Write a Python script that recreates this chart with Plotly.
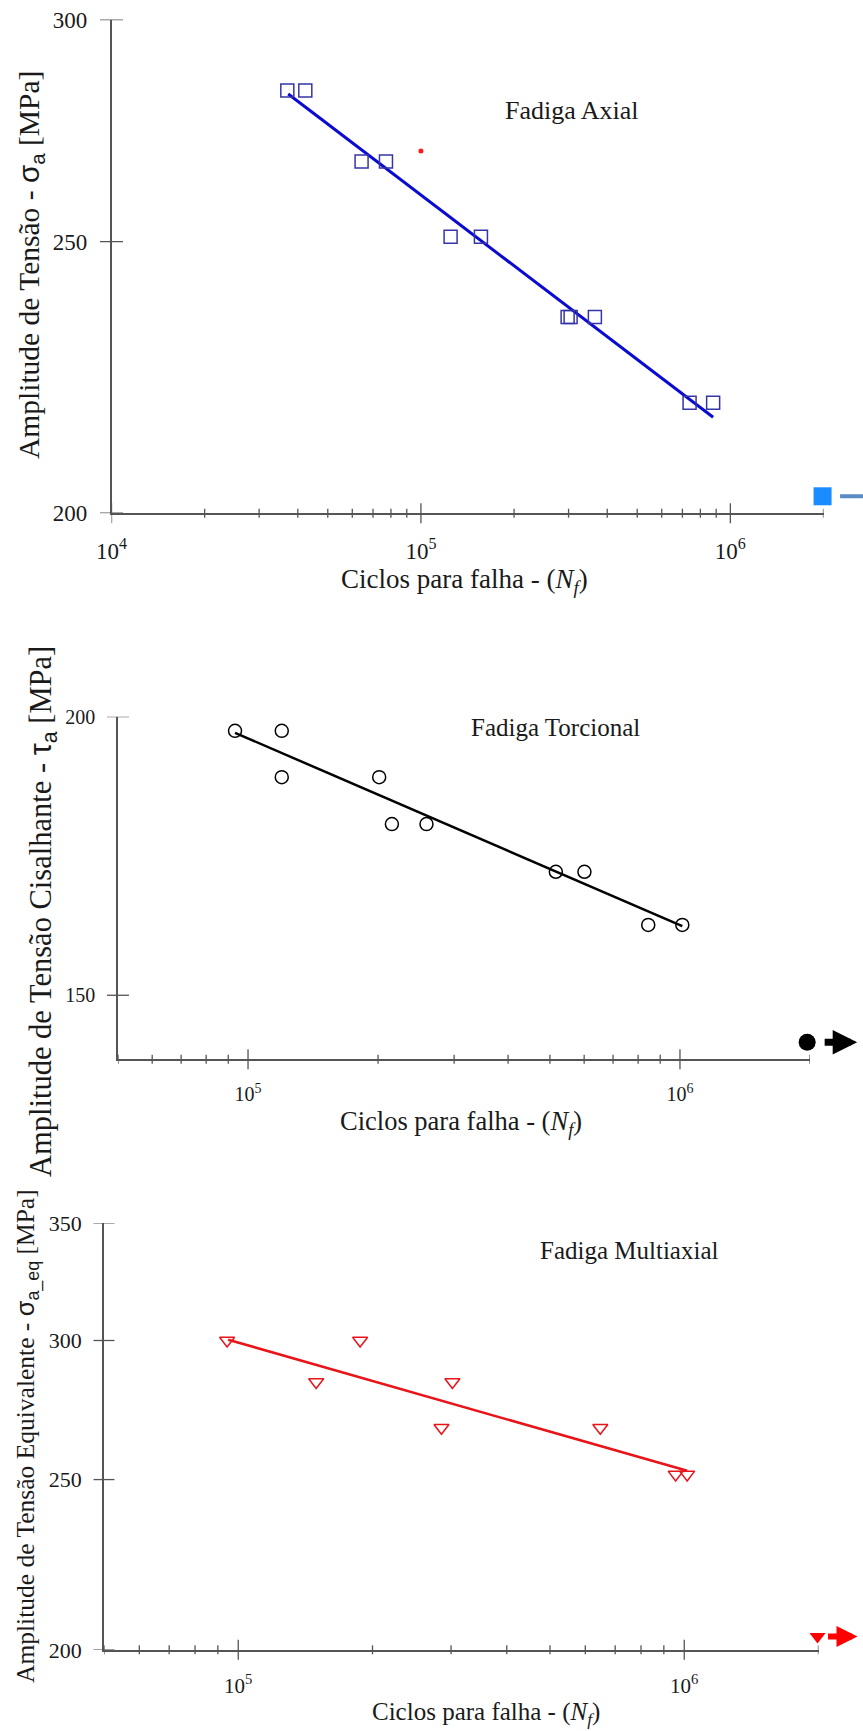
import numpy as np
import plotly.graph_objects as go

W, H = 863, 1731
SERIF = "Liberation Serif, Times New Roman, serif"

# ---------------- Data ----------------
# Chart 1 - Fadiga Axial
axial_N = [37000, 42300, 64300, 77100, 124700, 156300, 297900, 304600, 364900, 738300, 879800]
axial_S = [283, 283, 267, 267, 251, 251, 235, 235, 235, 219, 219]
axial_fit_N = [37250, 879800]
axial_fit_S = [282.2, 216.4]
axial_dot_N = [100000]
axial_dot_S = [269.3]
axial_runout_N = [1986000]
axial_runout_S = [202.8]

# Chart 2 - Fadiga Torcional
tors_N = [93300, 119700, 119700, 201200, 215300, 258900, 516000, 600900, 844400, 1012600]
tors_S = [197.1, 197.1, 187.9, 187.9, 179.0, 179.0, 170.4, 170.4, 161.3, 161.3]
tors_fit_N = [93300, 1012600]
tors_fit_S = [196.7, 161.1]
tors_runout_N = [1970000]
tors_runout_S = [142.9]

# Chart 3 - Fadiga Multiaxial
multi_N = [94400, 187600, 149500, 302100, 285500, 648300, 956600, 1015100]
multi_S = [300, 300, 284.1, 284.1, 267.6, 267.6, 251.7, 251.7]
multi_fit_N = [94930, 1015100]
multi_fit_S = [300.3, 252.9]
multi_runout_N = [1990000]
multi_runout_S = [203.5]

# Axes ranges / ticks
ax1_xrange = [1e4, 2e6]
ax1_yrange = [200, 300]
ax1_xmajor = [1e4, 1e5, 1e6]
ax1_xlabels = ["10<sup>4</sup>", "10<sup>5</sup>", "10<sup>6</sup>"]
ax1_xminor = [2e4, 3e4, 4e4, 5e4, 6e4, 7e4, 8e4, 9e4,
              2e5, 3e5, 4e5, 5e5, 6e5, 7e5, 8e5, 9e5, 2e6]
ax1_yticks = [200, 250, 300]

ax2_xrange = [5e4, 2e6]
ax2_yrange = [140.4, 200]
ax2_xmajor = [1e5, 1e6]
ax2_xlabels = ["10<sup>5</sup>", "10<sup>6</sup>"]
ax2_xminor = [5e4, 6e4, 7e4, 8e4, 9e4,
              2e5, 3e5, 4e5, 5e5, 6e5, 7e5, 8e5, 9e5, 2e6]
ax2_yticks = [150, 200]

ax3_xrange = [5e4, 2e6]
ax3_yrange = [200, 350]
ax3_xmajor = [1e5, 1e6]
ax3_xlabels = ["10<sup>5</sup>", "10<sup>6</sup>"]
ax3_xminor = ax2_xminor
ax3_yticks = [200, 250, 300, 350]


def px(x):
    return x / W


def py(y):
    return 1 - y / H


fig = go.Figure()

AX = "#555555"

# ---------- traces ----------
# chart 1
fig.add_trace(go.Scatter(x=axial_fit_N, y=axial_fit_S, mode="lines",
                         line=dict(color="#0a0ad0", width=3), xaxis="x", yaxis="y"))
fig.add_trace(go.Scatter(x=axial_N, y=axial_S, mode="markers",
                         marker=dict(symbol="square-open", size=13, color="#3535a8",
                                     line=dict(width=1.5)), xaxis="x", yaxis="y"))
fig.add_trace(go.Scatter(x=axial_dot_N, y=axial_dot_S, mode="markers",
                         marker=dict(symbol="circle", size=5, color="#ff1a1a"), xaxis="x", yaxis="y"))
fig.add_trace(go.Scatter(x=axial_runout_N, y=axial_runout_S, mode="markers", cliponaxis=False,
                         marker=dict(symbol="square", size=18, color="#1a8cff"), xaxis="x", yaxis="y"))
# chart 2
fig.add_trace(go.Scatter(x=tors_fit_N, y=tors_fit_S, mode="lines",
                         line=dict(color="black", width=2.5), xaxis="x2", yaxis="y2"))
fig.add_trace(go.Scatter(x=tors_N, y=tors_S, mode="markers",
                         marker=dict(symbol="circle-open", size=13, color="black",
                                     line=dict(width=1.5)), xaxis="x2", yaxis="y2"))
fig.add_trace(go.Scatter(x=tors_runout_N, y=tors_runout_S, mode="markers", cliponaxis=False,
                         marker=dict(symbol="circle", size=17, color="black"), xaxis="x2", yaxis="y2"))
# chart 3
fig.add_trace(go.Scatter(x=multi_fit_N, y=multi_fit_S, mode="lines",
                         line=dict(color="#e8141a", width=2.5), xaxis="x3", yaxis="y3"))
fig.add_trace(go.Scatter(x=multi_N, y=multi_S, mode="markers",
                         marker=dict(symbol="triangle-down-open", size=13, color="#e8141a",
                                     line=dict(width=1.5)), xaxis="x3", yaxis="y3"))
fig.add_trace(go.Scatter(x=multi_runout_N, y=multi_runout_S, mode="markers", cliponaxis=False,
                         marker=dict(symbol="triangle-down", size=14, color="#ff0000"), xaxis="x3", yaxis="y3"))


def xaxis(rng, dom, anchor, vals, labels, size):
    return dict(type="log", range=[np.log10(rng[0]), np.log10(rng[1])], domain=dom, anchor=anchor,
                showline=True, linecolor=AX, linewidth=1.5, ticks="", showgrid=False, zeroline=False,
                automargin=False, tickangle=0,
                tickvals=vals, ticktext=labels, tickfont=dict(family=SERIF, size=size, color="#1a1a1a"),
                ticklabelstandoff=16)


def yaxis(rng, dom, anchor, vals, size, standoff):
    return dict(type="log", range=[np.log10(rng[0]), np.log10(rng[1])], domain=dom, anchor=anchor,
                showline=True, linecolor=AX, linewidth=1.5, ticks="", showgrid=False, zeroline=False,
                automargin=False,
                tickvals=vals, ticktext=[str(v) for v in vals],
                tickfont=dict(family=SERIF, size=size, color="#1a1a1a"), ticklabelstandoff=standoff)


fig.update_layout(
    width=W, height=H, margin=dict(l=0, r=0, t=0, b=0, autoexpand=False),
    paper_bgcolor="white", plot_bgcolor="white", showlegend=False,
    xaxis=xaxis(ax1_xrange, [px(111.5), px(823.5)], "y", ax1_xmajor, ax1_xlabels, 23),
    yaxis=yaxis(ax1_yrange, [py(513.2), py(19.6)], "x", ax1_yticks, 23, 18),
    xaxis2=xaxis(ax2_xrange, [px(118), px(810)], "y2", ax2_xmajor, ax2_xlabels, 20),
    yaxis2=yaxis(ax2_yrange, [py(1059.3), py(716.7)], "x2", ax2_yticks, 20, 17),
    xaxis3=xaxis(ax3_xrange, [px(104), px(818.5)], "y3", ax3_xmajor, ax3_xlabels, 21),
    yaxis3=yaxis(ax3_yrange, [py(1649.8), py(1222.9)], "x3", ax3_yticks, 22, 16),
)

# ---------- crossing tick marks ----------
shapes = []


def xticks(xr, yr, vals, half):
    for v in vals:
        shapes.append(dict(type="line", xref=xr, yref=yr + " domain", x0=v, x1=v,
                           ysizemode="pixel", yanchor=0, y0=-half, y1=half,
                           line=dict(color=AX, width=1.3)))


def yticks(xr, yr, vals, half):
    for v in vals:
        shapes.append(dict(type="line", xref=xr + " domain", yref=yr, y0=v, y1=v,
                           xsizemode="pixel", xanchor=0, x0=-half, x1=half,
                           line=dict(color=AX, width=1.3)))


xticks("x", "y", ax1_xmajor, 10)
xticks("x", "y", ax1_xminor, 4.5)
yticks("x", "y", ax1_yticks, 11.5)
xticks("x2", "y2", ax2_xmajor, 10)
xticks("x2", "y2", ax2_xminor, 4.5)
yticks("x2", "y2", ax2_yticks, 11)
xticks("x3", "y3", ax3_xmajor, 10)
xticks("x3", "y3", ax3_xminor, 4.5)
yticks("x3", "y3", ax3_yticks, 10.5)
fig.update_layout(shapes=shapes)

# ---------- annotations ----------
ann = []


def text(x, y, t, size, angle=0):
    ann.append(dict(x=px(x), y=py(y), xref="paper", yref="paper", text=t, showarrow=False,
                    textangle=angle, xanchor="center", yanchor="middle",
                    font=dict(family=SERIF, size=size, color="#1a1a1a")))


text(572, 110, "Fadiga Axial", 26)
text(555, 728, "Fadiga Torcional", 25)
text(629, 1250, "Fadiga Multiaxial", 25)

xt = "Ciclos para falha - (<i>N</i><sub><i>f</i></sub>)"
text(464, 581, xt, 27)
text(461, 1123, xt, 26.5)
text(486, 1713, xt, 25)

SIG = "<span style='font-family:Liberation Sans'>σ<sub>a</sub></span>"
TAU = "<span style='font-family:Liberation Sans'>τ<sub>a</sub></span>"
SIGEQ = "<span style='font-family:Liberation Sans'>σ<sub>a_eq</sub></span>"
text(30, 265, "Amplitude de Tensão - " + SIG + " [MPa]", 29.5, -90)
text(42, 912, "Amplitude de Tensão Cisalhante - " + TAU + " [MPa]", 30.5, -90)
text(27, 1436, "Amplitude de Tensão Equivalente - " + SIGEQ + " [MPa]", 25.5, -90)


def arrow(xr, yr, n, s, color, width, ax, shift, size):
    ann.append(dict(x=np.log10(n), y=np.log10(s), xref=xr, yref=yr, text="", showarrow=True,
                    axref="pixel", ayref="pixel", ax=ax, ay=0, xshift=shift,
                    arrowhead=2, arrowsize=size, arrowwidth=width, arrowcolor=color, standoff=0))


arrow("x", "y", axial_runout_N[0], axial_runout_S[0], "#5b8bc5", 4, -46, 62, 1)
arrow("x2", "y2", tors_runout_N[0], tors_runout_S[0], "black", 7, -34, 50, 0.7)
arrow("x3", "y3", multi_runout_N[0], multi_runout_S[0], "#ff0000", 6, -31, 40, 0.7)

fig.update_layout(annotations=ann)

fig.write_html("out.html")
